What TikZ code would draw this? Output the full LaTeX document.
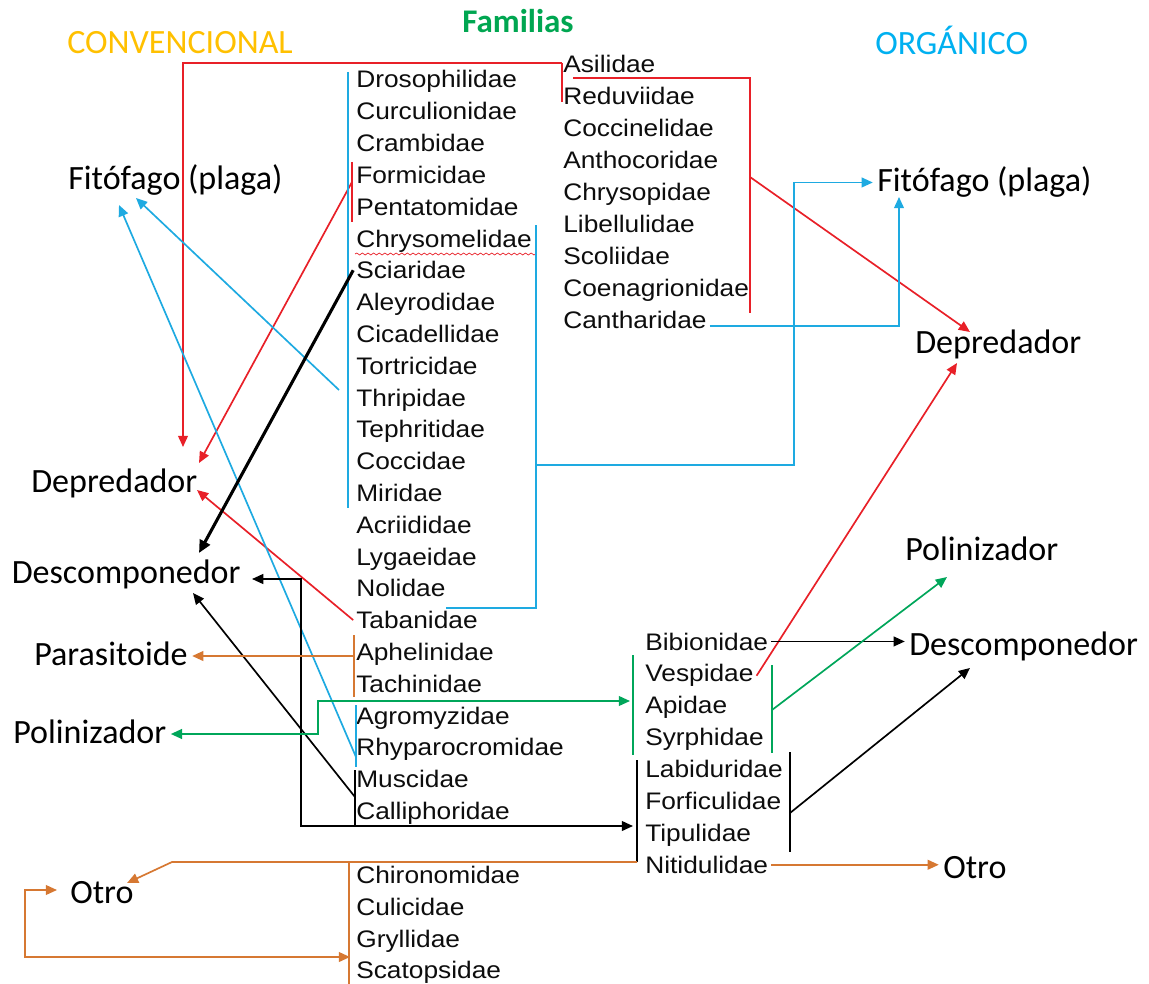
\documentclass[tikz,border=0pt]{standalone}
\usepackage{fontspec}
\newfontfamily\famfont[FakeStretch=1.1]{Liberation Sans}
\newfontfamily\lblfont{Carlito}
\usetikzlibrary{arrows.meta,calc,decorations.pathmorphing}
\definecolor{cRed}{RGB}{232,32,40}
\definecolor{cBlue}{RGB}{30,170,225}
\definecolor{cGreen}{RGB}{0,166,90}
\definecolor{cOrange}{RGB}{214,120,50}
\definecolor{cGold}{RGB}{255,192,0}
\definecolor{cSky}{RGB}{0,176,240}
\definecolor{cHead}{RGB}{0,166,81}

\begin{document}
\begin{tikzpicture}[x=0.025cm,y=-0.025cm,
    fam/.style={anchor=base west,inner xsep=2pt,inner ysep=0pt,text=black!95,font=\famfont\fontsize{17}{20}\selectfont},
    lbl/.style={anchor=base west,inner xsep=3pt,inner ysep=0pt,text=black,font=\lblfont\fontsize{24.2}{28}\selectfont},
    head/.style={anchor=base west,inner sep=0pt,font=\lblfont\fontsize{24.2}{28}\selectfont},
    rd/.style={draw=cRed,line width=1.2pt},
    blu/.style={draw=cBlue,line width=1.2pt},
    grn/.style={draw=cGreen,line width=1.2pt},
    org/.style={draw=cOrange,line width=1.2pt},
    blk/.style={draw=black,line width=1.2pt},
    >={Triangle[length=8pt,width=7pt]}]

\useasboundingbox (0,0) rectangle (1149,984);

\node[head,text=cGold] (conv) at (67,54) {CONVENCIONAL};
\node[head,text=cHead,font=\lblfont\bfseries\fontsize{23.5}{28}\selectfont] (famh) at (462,33) {Familias};
\node[head,text=cSky] (org) at (875,55) {ORGÁNICO};

\node[fam] (dro) at (353.2,88) {Drosophilidae};
\node[fam] (cur) at (353.2,119.8) {Curculionidae};
\node[fam] (cra) at (353.2,151.6) {Crambidae};
\node[fam] (for) at (353.2,183.4) {Formicidae};
\node[fam] (pen) at (353.2,215.2) {Pentatomidae};
\node[fam] (chr) at (353.2,247) {Chrysomelidae};
\node[fam] (sci) at (353.2,278.8) {Sciaridae};
\node[fam] (ale) at (353.2,310.6) {Aleyrodidae};
\node[fam] (cic) at (353.2,342.4) {Cicadellidae};
\node[fam] (tor) at (353.2,374.2) {Tortricidae};
\node[fam] (thr) at (353.2,406) {Thripidae};
\node[fam] (tep) at (353.2,437.8) {Tephritidae};
\node[fam] (coc) at (353.2,469.6) {Coccidae};
\node[fam] (mir) at (353.2,501.4) {Miridae};
\node[fam] (acr) at (353.2,533.2) {Acriididae};
\node[fam] (lyg) at (353.2,565) {Lygaeidae};
\node[fam] (nol) at (353.2,596.8) {Nolidae};
\node[fam] (tab) at (353.2,628.6) {Tabanidae};
\node[fam] (aph) at (353.2,660.4) {Aphelinidae};
\node[fam] (tac) at (353.2,692.2) {Tachinidae};
\node[fam] (agr) at (353.2,724) {Agromyzidae};
\node[fam] (rhy) at (353.2,755.8) {Rhyparocromidae};
\node[fam] (mus) at (353.2,787.6) {Muscidae};
\node[fam] (cal) at (353.2,819.4) {Calliphoridae};
\node[fam] (chi) at (353.2,883) {Chironomidae};
\node[fam] (cul) at (353.2,915) {Culicidae};
\node[fam] (gry) at (353.2,947) {Gryllidae};
\node[fam] (sca) at (353.2,978) {Scatopsidae};

\node[fam] (asi) at (560.2,73) {Asilidae};
\node[fam] (redu) at (560.2,104.9) {Reduviidae};
\node[fam] (cocc) at (560.2,136.8) {Coccinelidae};
\node[fam] (ant) at (560.2,168.7) {Anthocoridae};
\node[fam] (chrp) at (560.2,200.6) {Chrysopidae};
\node[fam] (lib) at (560.2,232.5) {Libellulidae};
\node[fam] (sco) at (560.2,264.4) {Scoliidae};
\node[fam] (coe) at (560.2,296.3) {Coenagrionidae};
\node[fam] (can) at (560.2,328.2) {Cantharidae};

\node[fam] (bib) at (642.2,650) {Bibionidae};
\node[fam] (ves) at (642.2,681.9) {Vespidae};
\node[fam] (api) at (642.2,713.8) {Apidae};
\node[fam] (syr) at (642.2,745.7) {Syrphidae};
\node[fam] (lab) at (642.2,777.6) {Labiduridae};
\node[fam] (forf) at (642.2,809.5) {Forficulidae};
\node[fam] (tipu) at (642.2,841.4) {Tipulidae};
\node[fam] (nit) at (642.2,873.3) {Nitidulidae};

\node[lbl] (fitL) at (63.8,190) {Fitófago (plaga)};
\node[lbl] (depL) at (26.8,492) {Depredador};
\node[lbl] (desL) at (7.3,583) {Descomponedor};
\node[lbl] (parL) at (29.8,665) {Parasitoide};
\node[lbl] (polL) at (8.8,743) {Polinizador};
\node[lbl] (otrL) at (65.8,903) {Otro};
\node[lbl] (fitR) at (872.8,192) {Fitófago (plaga)};
\node[lbl] (depR) at (910.8,353) {Depredador};
\node[lbl] (polR) at (900.8,560) {Polinizador};
\node[lbl] (desR) at (904.8,655) {Descomponedor};
\node[lbl] (otrR) at (938.8,878) {Otro};

\coordinate (depLa) at (183,447);
\coordinate (depLb) at (199,463);
\coordinate (depLc) at (197,490);
\coordinate (desLa) at (199,553);
\coordinate (desLb) at (252,579);
\coordinate (desLc) at (193,593);
\coordinate (fitLa) at (136,198);
\coordinate (fitLb) at (119,205);
\coordinate (depRa) at (970,332);
\coordinate (depRb) at (957,363);
\coordinate (fitRb) at (899,197);
\coordinate (polRa) at (947,577);
\coordinate (desRa) at (970,668);
\coordinate (otrLa) at (127,883);
\coordinate (otrLb) at (57,890);

\coordinate (r1a) at (562,102);
\coordinate (r1b) at (562,63);
\coordinate (r1c) at (183,63);
\coordinate (r2a) at (573,78);
\coordinate (r2b) at (750,78);
\coordinate (r2c) at (750,313);
\coordinate (r2m) at (750,177);
\coordinate (r3a) at (352,162);
\coordinate (r3b) at (352,222);
\coordinate (r3m) at (352,182);
\coordinate (wv1) at (355,254);
\coordinate (wv2) at (536,254);

\coordinate (b1t) at (348,72);
\coordinate (b1b) at (348,508);
\coordinate (b2a) at (339,390);
\coordinate (b3t) at (356,705);
\coordinate (b3b) at (356,767);
\coordinate (b3s) at (356,757);
\coordinate (b4t) at (536,225);
\coordinate (b4b) at (536,608);
\coordinate (b4l) at (446,608);
\coordinate (b4m) at (536,465);
\coordinate (b4c) at (794,465);

\coordinate (m1) at (355,770);
\coordinate (m2) at (355,826);
\coordinate (mm) at (355,797);
\coordinate (kA) at (301,579);
\coordinate (kB) at (301,826);
\coordinate (kC) at (633,826);
\coordinate (l1) at (637,760);
\coordinate (l2) at (637,862);
\coordinate (q1) at (790,752);
\coordinate (q2) at (790,852);
\coordinate (qm) at (790,813);

\coordinate (ga) at (633,655);
\coordinate (gb) at (633,755);
\coordinate (gc) at (772,665);
\coordinate (gd) at (772,753);
\coordinate (gm) at (772,710);
\coordinate (grnA) at (318,734);
\coordinate (grnB) at (318,701);
\coordinate (grnTip) at (630,701);

\coordinate (oa1) at (354,635);
\coordinate (oa2) at (354,697);
\coordinate (oam) at (354,656);
\coordinate (oB) at (172,862);
\coordinate (ob1) at (349,863);
\coordinate (ob2) at (349,984);
\coordinate (oC) at (25,890);
\coordinate (oD) at (25,957);
\coordinate (oE) at (350,957);

\draw[rd] (r1a) -- (r1b);
\draw[rd,->] (r1b) -- (r1c) -- (depLa);
\draw[rd] (r2a) -- (r2b) -- (r2c);
\draw[rd,->] (r2m) -- (depRa);
\draw[rd] (r3a) -- (r3b);
\draw[rd,->] (r3m) -- (depLb);
\draw[rd,->] (tab.west) -- (depLc);
\draw[rd,->] (ves.east) -- (depRb);
\draw[cRed,line width=0.5pt,decorate,decoration={snake,amplitude=0.7pt,segment length=4pt}] (wv1) -- (wv2);

\draw[blu] (b1t) -- (b1b);
\draw[blu,->] (b2a) -- (fitLa);
\draw[blu] (b3t) -- (b3b);
\draw[blu,->] (b3s) -- (fitLb);
\draw[blu] (b4l) -- (b4b) -- (b4t);
\draw[blu,->] (b4m) -- (b4c) |- (fitR.west);
\draw[blu,->] ($(can.base east)+(0,-2)$) -| (fitRb);

\draw[black,line width=2.2pt,->,>={Triangle[length=9pt,width=8pt]}] (sci.west) -- (desLa);
\draw[blk] (m1) -- (m2);
\draw[blk,->] (mm) -- (desLc);
\draw[blk,<->] (desLb) -- (kA) -- (kB) -- (kC);
\draw[blk] (l1) -- (l2);
\draw[blk] (q1) -- (q2);
\draw[blk,->] (qm) -- (desRa);
\draw[blk,->] (bib.east) -- (bib.east -| desR.west);

\draw[grn] (ga) -- (gb);
\draw[grn] (gc) -- (gd);
\draw[grn,->] (gm) -- (polRa);
\draw[grn,<->] (grnA -| polL.east) -- (grnA) -- (grnB) -- (grnTip);

\draw[org] (oa1) -- (oa2);
\draw[org,->] (oam) -- (oam -| parL.east);
\draw[org,->] (l2) -- (oB) -- (otrLa);
\draw[org,->] (nit.east) -- (nit.east -| otrR.west);
\draw[org] (ob1) -- (ob2);
\draw[org,<->] (otrLb) -- (oC) -- (oD) -- (oE);

\end{tikzpicture}
\end{document}
